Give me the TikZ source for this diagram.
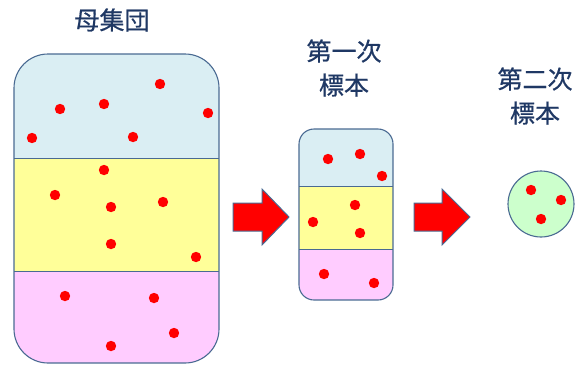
\documentclass[tikz,border=0pt]{standalone}
\usepackage{fontspec}
\newfontfamily\jpfont[FakeBold=0.6]{Noto Sans CJK JP}
\definecolor{navy}{HTML}{1F3864}
\definecolor{edge}{HTML}{4A6A92}
\definecolor{bandA}{HTML}{DAEEF3}
\definecolor{bandB}{HTML}{FFFF99}
\definecolor{bandC}{HTML}{FFCCFF}
\definecolor{ball}{HTML}{CCFFCC}
\tikzset{
  title/.style={font=\jpfont\fontsize{25}{34}\selectfont, text=navy, align=center, inner sep=0pt},
  dot/.style={fill=red, draw=none},
  outline/.style={draw=edge, line width=1.1pt},
  bigarrow/.style={fill=red, draw=edge, line width=1pt, line join=miter},
}
\begin{document}
\begin{tikzpicture}[x=1pt,y=-1pt]
\useasboundingbox (0,0) rectangle (575,365);
% population box
\begin{scope}
  \clip[rounded corners=34pt] (14,54) rectangle (219,363);
  \fill[bandA] (14,54) rectangle (219,158);
  \fill[bandB] (14,158) rectangle (219,271);
  \fill[bandC] (14,271) rectangle (219,363);
\end{scope}
\draw[edge, line width=1pt] (14,158) -- (219,158);
\draw[edge, line width=1pt] (14,271) -- (219,271);
\draw[outline, rounded corners=34pt] (14,54) rectangle (219,363);
\foreach \x/\y in {160/84,60/109,104/104,208/113,32/138,133/137,104/170,
  55/195,111/207,163/202,111/244,196/257,65/296,154/298,174/333,111/346}
  \fill[dot] (\x,\y) circle (5.2pt);
\node[title] (t1) at (112,20) {母集団};
% first sample box
\begin{scope}
  \clip[rounded corners=15pt] (299,129) rectangle (393,300);
  \fill[bandA] (299,129) rectangle (393,186);
  \fill[bandB] (299,186) rectangle (393,249);
  \fill[bandC] (299,249) rectangle (393,300);
\end{scope}
\draw[edge, line width=1pt] (299,186) -- (393,186);
\draw[edge, line width=1pt] (299,249) -- (393,249);
\draw[outline, rounded corners=15pt] (299,129) rectangle (393,300);
\foreach \x/\y in {328/159,360/154,382/176,355/205,313/222,360/233,324/274,374/283}
  \fill[dot] (\x,\y) circle (5.2pt);
\node[title] (t2) at (344,68) {第一次\\標本};
% arrows
\draw[bigarrow] (233,203) -- (262,203) -- (262,189) -- (289,217) -- (262,245) -- (262,231) -- (233,231) -- cycle;
\draw[bigarrow] (414,203) -- (442,203) -- (442,189) -- (470,217) -- (442,245) -- (442,231) -- (414,231) -- cycle;
% second sample
\draw[outline, fill=ball] (541,204) circle (33pt);
\foreach \x/\y in {531/190,561/200,541/219}
  \fill[dot] (\x,\y) circle (5.2pt);
\node[title] (t3) at (535,96) {第二次\\標本};
\end{tikzpicture}
\end{document}
